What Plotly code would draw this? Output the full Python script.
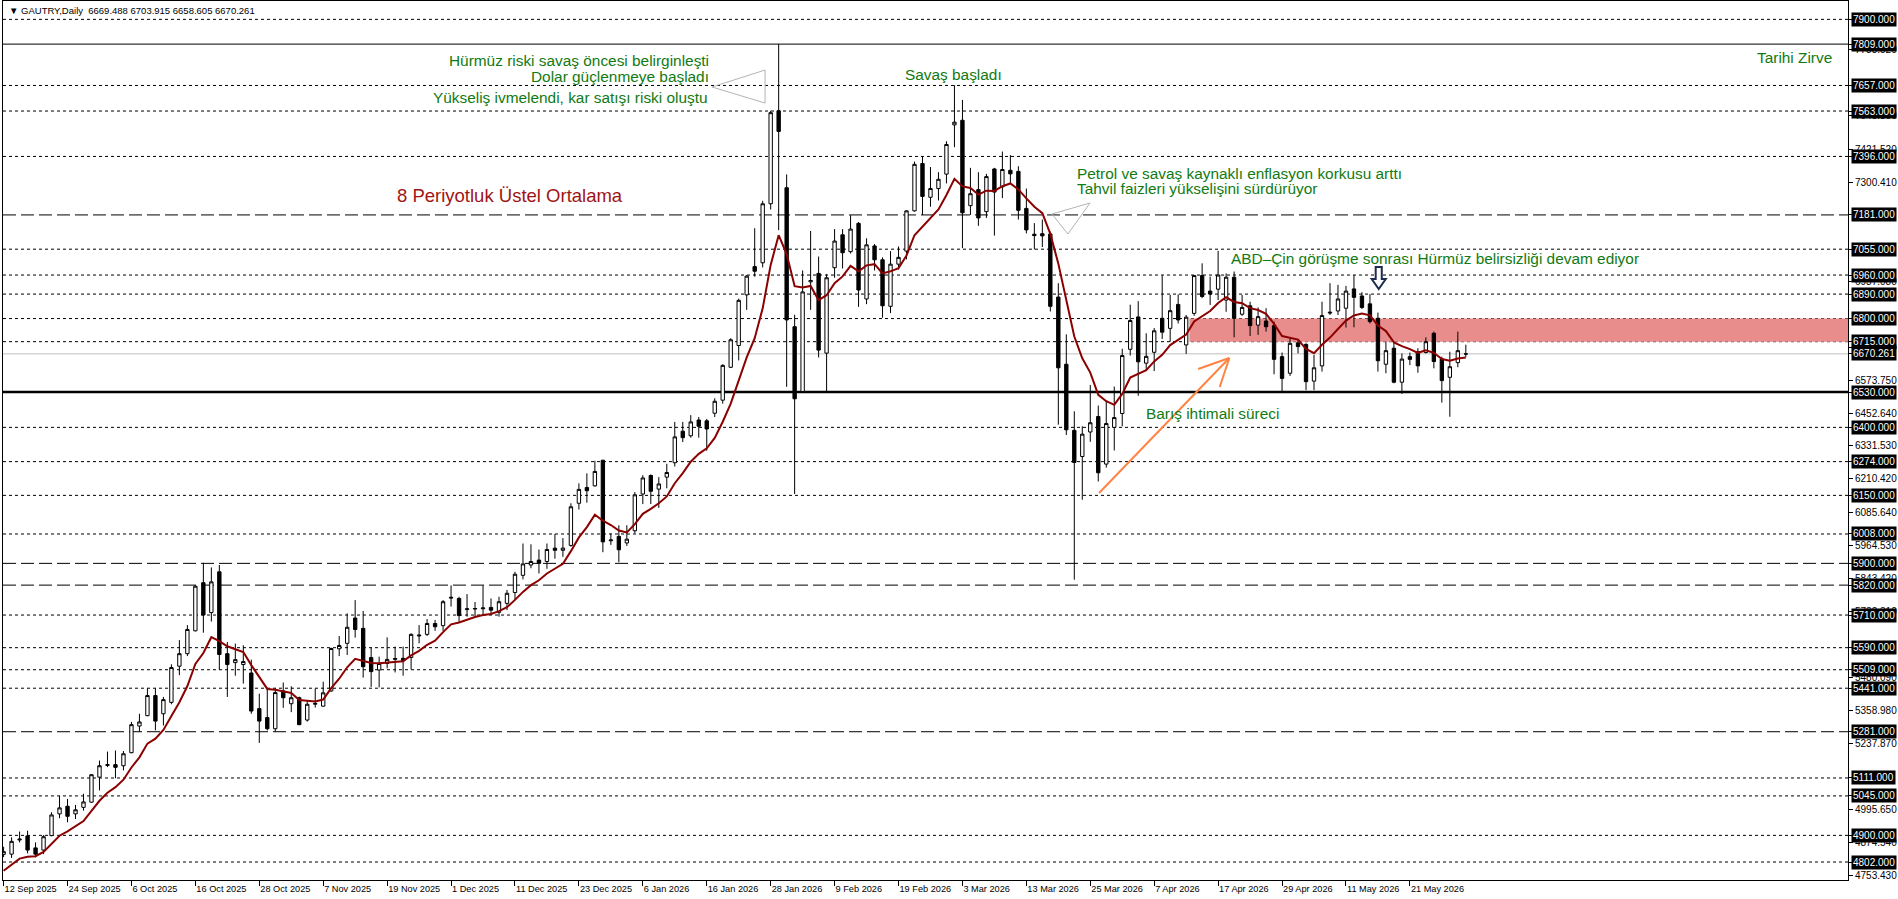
import plotly.graph_objects as go

# ---------------- data ----------------
open_ = [4830, 4831, 4883, 4898, 4854, 4846, 4899, 4979, 5007, 4979,
         5003, 5022, 5114, 5157, 5160, 5156, 5204, 5302, 5340, 5414,
         5347, 5389, 5522, 5568, 5652, 5829, 5719, 5869, 5568, 5535,
         5528, 5497, 5366, 5333, 5292, 5431, 5384, 5406, 5324, 5382,
         5375, 5431, 5586, 5606, 5699, 5661, 5554, 5508, 5532, 5547,
         5551, 5554, 5633, 5639, 5679, 5671, 5772, 5771, 5730, 5732,
         5733, 5738, 5720, 5753, 5793, 5856, 5894, 5912, 5907, 5956,
         5948, 5966, 6121, 6179, 6185, 6279, 5983, 5999, 5975, 6020,
         6155, 6223, 6173, 6217, 6270, 6386, 6369, 6427, 6424, 6452,
         6500, 6621, 6701, 6887, 6991, 7005, 7222, 7564, 7281, 6770,
         6532, 6935, 6966, 6673, 6987, 7108, 7046, 7150, 6872, 7067,
         7016, 6845, 7000, 7048, 7196, 7370, 7246, 7278, 7331, 7512,
         7529, 7215, 7274, 7193, 7350, 7284, 7345, 7341, 7205, 7110,
         7112, 7111, 6879, 6632, 6389, 6293, 6383, 6440, 6265, 6400,
         6451, 6687, 6806, 6636, 6676, 6801, 6764, 6852, 6703, 6819,
         6958, 6901, 6908, 6868, 6952, 6816, 6847, 6776, 6791, 6774,
         6660, 6599, 6711, 6705, 6570, 6626, 6820, 6828, 6838, 6909,
         6883, 6854, 6801, 6632, 6691, 6566, 6660, 6678, 6675, 6746,
         6651, 6584, 6638, 6669.488]
high = [4858, 4893, 4914, 4917, 4874, 4901, 4985, 5045, 5034, 5012,
        5053, 5125, 5175, 5208, 5212, 5210, 5317, 5347, 5441, 5441,
        5409, 5529, 5618, 5673, 5820, 5902, 5885, 5894, 5611, 5605,
        5599, 5546, 5421, 5441, 5441, 5462, 5448, 5410, 5397, 5440,
        5465, 5590, 5633, 5716, 5765, 5725, 5590, 5557, 5628, 5594,
        5594, 5643, 5673, 5695, 5692, 5765, 5819, 5777, 5787, 5758,
        5819, 5771, 5777, 5802, 5869, 5973, 5970, 5951, 5973, 6008,
        5993, 6121, 6194, 6231, 6277, 6281, 6010, 6040, 6040, 6162,
        6224, 6227, 6217, 6266, 6420, 6420, 6445, 6438, 6431, 6507,
        6632, 6728, 6873, 6960, 7132, 7233, 7564, 7809, 7330, 6814,
        6977, 7122, 7028, 6963, 7129, 7129, 7180, 7155, 7095, 7074,
        7025, 7048, 7065, 7198, 7377, 7396, 7357, 7338, 7452, 7658,
        7604, 7354, 7338, 7332, 7354, 7414, 7401, 7360, 7278, 7151,
        7164, 7120, 6930, 6742, 6459, 6404, 6556, 6480, 6497, 6550,
        6689, 6851, 6864, 6746, 6765, 6959, 6887, 6889, 6813, 6960,
        7003, 6954, 7049, 6966, 6973, 6887, 6862, 6841, 6838, 6789,
        6675, 6727, 6724, 6709, 6666, 6862, 6930, 6924, 6920, 6960,
        6897, 6890, 6822, 6715, 6715, 6672, 6675, 6691, 6731, 6752,
        6660, 6678, 6752, 6703.915]
low = [4820, 4817, 4874, 4834, 4819, 4831, 4897, 4963, 4948, 4960,
       4991, 5020, 5065, 5151, 5110, 5139, 5202, 5281, 5338, 5286,
       5304, 5382, 5489, 5559, 5650, 5645, 5686, 5509, 5409, 5487,
       5458, 5347, 5240, 5286, 5281, 5369, 5353, 5305, 5318, 5370,
       5373, 5428, 5559, 5563, 5627, 5480, 5446, 5444, 5514, 5499,
       5487, 5510, 5606, 5633, 5652, 5652, 5741, 5685, 5704, 5704,
       5712, 5712, 5704, 5728, 5765, 5841, 5882, 5863, 5880, 5917,
       5924, 5961, 6098, 6123, 6182, 5941, 5968, 5904, 5964, 6010,
       6118, 6118, 6104, 6176, 6256, 6346, 6362, 6362, 6314, 6438,
       6487, 6618, 6646, 6832, 6954, 6988, 7201, 7125, 6549, 6155,
       6530, 6832, 6657, 6528, 6950, 6984, 7039, 6843, 6853, 6977,
       6803, 6820, 6980, 7018, 7193, 7181, 7211, 7234, 7297, 7430,
       7059, 7181, 7141, 7170, 7105, 7243, 7297, 7164, 7113, 7054,
       7063, 6826, 6410, 6372, 5840, 6134, 6347, 6201, 6252, 6315,
       6404, 6664, 6516, 6607, 6607, 6725, 6715, 6782, 6670, 6810,
       6875, 6850, 6868, 6825, 6731, 6810, 6736, 6740, 6752, 6595,
       6531, 6589, 6672, 6537, 6537, 6605, 6813, 6813, 6767, 6768,
       6835, 6782, 6605, 6599, 6562, 6523, 6629, 6601, 6672, 6617,
       6491, 6439, 6621, 6658.605]
close = [4840, 4878, 4886, 4846, 4831, 4895, 4975, 5001, 4970, 4994,
         5023, 5123, 5156, 5160, 5150, 5200, 5307, 5317, 5414, 5320,
         5399, 5517, 5568, 5657, 5816, 5710, 5832, 5565, 5528, 5546,
         5539, 5357, 5320, 5292, 5425, 5406, 5406, 5307, 5382, 5385,
         5424, 5587, 5598, 5665, 5657, 5520, 5502, 5532, 5547, 5550,
         5542, 5639, 5636, 5679, 5667, 5759, 5775, 5708, 5733, 5734,
         5736, 5728, 5759, 5790, 5860, 5898, 5907, 5900, 5951, 5948,
         5956, 6108, 6172, 6167, 6238, 5979, 5986, 5950, 5989, 6152,
         6214, 6165, 6192, 6234, 6365, 6362, 6420, 6404, 6394, 6496,
         6628, 6722, 6867, 6956, 6974, 7222, 7557, 7488, 6795, 6505,
         6898, 6940, 6684, 6950, 7085, 7042, 7129, 6905, 7071, 7016,
         6847, 7000, 7025, 7196, 7367, 7249, 7278, 7312, 7440, 7522,
         7189, 7259, 7170, 7322, 7265, 7348, 7332, 7198, 7126, 7105,
         7104, 6845, 6619, 6391, 6271, 6375, 6417, 6233, 6414, 6436,
         6664, 6793, 6641, 6661, 6755, 6750, 6829, 6795, 6805, 6958,
         6881, 6890, 6960, 6952, 6801, 6841, 6774, 6807, 6770, 6650,
         6580, 6709, 6697, 6568, 6619, 6811, 6823, 6872, 6901, 6878,
         6841, 6789, 6645, 6682, 6566, 6651, 6650, 6626, 6715, 6642,
         6572, 6623, 6682, 6670.261]
bar_index = list(range(len(close)))

ema_period = 8
ema_start = 4770.0  # EMA value at the first visible bar

date_labels = ["12 Sep 2025", "24 Sep 2025", "6 Oct 2025", "16 Oct 2025",
               "28 Oct 2025", "7 Nov 2025", "19 Nov 2025", "1 Dec 2025",
               "11 Dec 2025", "23 Dec 2025", "6 Jan 2026", "16 Jan 2026",
               "28 Jan 2026", "9 Feb 2026", "19 Feb 2026", "3 Mar 2026",
               "13 Mar 2026", "25 Mar 2026", "7 Apr 2026", "17 Apr 2026",
               "29 Apr 2026", "11 May 2026", "21 May 2026"]
date_label_bars = [0, 8, 16, 24, 32, 40, 48, 56, 64, 72, 80, 88, 96, 104,
                   112, 120, 128, 136, 144, 152, 160, 168, 176]

levels_short_dash = [7900, 7657, 7563, 7396, 7055, 6960, 6890, 6800, 6715,
                     6400, 6274, 6150, 6008, 5710, 5590, 5509, 5441, 5111,
                     5045, 4900, 4802]
levels_long_dash = [7181, 5900, 5820, 5281]
level_ath = 7809
level_support = 6530
last_price = 6670.261
zone_low, zone_high = 6715, 6800
zone_start_bar = 148.4

axis_grid_labels = [7788.520, 7548.300, 7421.520, 7300.410, 6937.080,
                    6694.860, 6573.750, 6452.640, 6331.530, 6210.420,
                    6085.640, 5964.530, 5843.420, 5722.310, 5480.090,
                    5358.980, 5237.870, 4995.650, 4874.540, 4753.430]

header_text = "▼ GAUTRY,Daily  6669.488 6703.915 6658.605 6670.261"

# ---------------- derived indicator ----------------
alpha = 2.0 / (ema_period + 1)
ema = []
for i, c in enumerate(close):
    if i == 0:
        ema.append(ema_start)
    else:
        ema.append(ema[-1] + alpha * (c - ema[-1]))

# ---------------- figure ----------------
W, H = 1898, 899
X_RANGE = [-0.075, 230.83]
Y_RANGE = [4735.9, 7967.5]

fig = go.Figure()

fig.add_trace(go.Candlestick(
    x=bar_index, open=open_, high=high, low=low, close=close,
    increasing=dict(line=dict(color="black", width=1), fillcolor="white"),
    decreasing=dict(line=dict(color="black", width=1), fillcolor="black"),
    whiskerwidth=0, showlegend=False, hoverinfo="skip"))

fig.add_trace(go.Scatter(
    x=bar_index, y=ema, mode="lines",
    line=dict(color="#8B0000", width=2), showlegend=False, hoverinfo="skip"))

shapes = []
# pink zone
shapes.append(dict(type="rect", xref="x", yref="y", x0=zone_start_bar, x1=X_RANGE[1],
                   y0=zone_low, y1=zone_high, fillcolor="#E98C8C",
                   line=dict(width=0), layer="below"))
for p in levels_short_dash:
    shapes.append(dict(type="line", xref="paper", yref="y", x0=0, x1=1, y0=p, y1=p,
                       line=dict(color="black", width=1, dash="3px,3px"), layer="below"))
for p in levels_long_dash:
    shapes.append(dict(type="line", xref="paper", yref="y", x0=0, x1=1, y0=p, y1=p,
                       line=dict(color="black", width=1, dash="13px,5px"), layer="below"))
shapes.append(dict(type="line", xref="paper", yref="y", x0=0, x1=1, y0=level_ath, y1=level_ath,
                   line=dict(color="black", width=1), layer="below"))
shapes.append(dict(type="line", xref="paper", yref="y", x0=0, x1=1, y0=last_price, y1=last_price,
                   line=dict(color="#C0C0C0", width=1), layer="below"))
shapes.append(dict(type="line", xref="paper", yref="y", x0=0, x1=1, y0=level_support, y1=level_support,
                   line=dict(color="black", width=2.5), layer="below"))

# gray triangles (callout markers)
shapes.append(dict(type="path", xref="x", yref="y",
                   path="M 88.66 7651.3 L 95.3 7713.8 L 95.3 7592.4 Z",
                   line=dict(color="#B4B4B4", width=1), fillcolor="rgba(0,0,0,0)"))
shapes.append(dict(type="path", xref="x", yref="y",
                   path="M 131.2 7184.4 L 135.97 7224.9 L 133.2 7110.9 Z",
                   line=dict(color="#B4B4B4", width=1), fillcolor="rgba(0,0,0,0)"))
# orange arrow
orange = "#FF8444"
shapes.append(dict(type="line", xref="x", yref="y", x0=137.1, y0=6158.7, x1=153.4, y1=6655,
                   line=dict(color=orange, width=2)))
shapes.append(dict(type="line", xref="x", yref="y", x0=149.5, y0=6614.6, x1=153.4, y1=6655,
                   line=dict(color=orange, width=2)))
shapes.append(dict(type="line", xref="x", yref="y", x0=152.2, y0=6548.4, x1=153.4, y1=6655,
                   line=dict(color=orange, width=2)))
# down arrow (hollow)
ax, sh, hh = 172.1, 0.38, 0.88
shapes.append(dict(type="path", xref="x", yref="y",
                   path=(f"M {ax-sh} 6989.6 L {ax+sh} 6989.6 L {ax+sh} 6945.5 L {ax+hh} 6945.5 "
                         f"L {ax} 6908.7 L {ax-hh} 6945.5 L {ax-sh} 6945.5 Z"),
                   line=dict(color="#1E2D4F", width=2), fillcolor="white"))

annotations = []
green = "#127A12"
font_txt = "Liberation Sans, Arial, sans-serif"


def txt(text, x, y, anchor, color=green, size=15.4):
    annotations.append(dict(text=text, x=x, y=y, xref="x", yref="y", xanchor=anchor,
                            yanchor="middle", showarrow=False,
                            font=dict(family=font_txt, size=size, color=color)))


txt("Hürmüz riski savaş öncesi belirginleşti", 88.5, 7748.7, "right")
txt("Dolar güçlenmeye başladı", 88.5, 7691.0, "right")
txt("Yükseliş ivmelendi, kar satışı riski oluştu", 88.4, 7613.7, "right")
txt("Savaş başladı", 118.9, 7698.5, "center")
txt("8 Periyotluk Üstel Ortalama", 49.0, 7254.0, "left", color="#A01414", size=18.5)
txt("Tarihi Zirve", 229.1, 7761.0, "right")
txt("Petrol ve savaş kaynaklı enflasyon korkusu arttı", 134.1, 7335.0, "left")
txt("Tahvil faizleri yükselişini sürdürüyor", 134.1, 7280.0, "left")
txt("ABD–Çin görüşme sonrası Hürmüz belirsizliği devam ediyor", 153.4, 7019.0, "left")
txt("Barış ihtimali süreci", 142.7, 6452.8, "left")

# boxed price labels on the right axis
boxed = sorted(levels_short_dash + levels_long_dash + [level_ath, level_support])
for p in boxed:
    annotations.append(dict(text=f"{p:.3f}", x=1, y=p, xref="paper", yref="y",
                            xanchor="left", yanchor="middle", xshift=3, showarrow=False,
                            bgcolor="black", borderpad=1,
                            font=dict(family=font_txt, size=10, color="white")))
annotations.append(dict(text=f"{last_price:.3f}", x=1, y=last_price, xref="paper", yref="y",
                        xanchor="left", yanchor="middle", xshift=3, showarrow=False,
                        bgcolor="black", borderpad=1,
                        font=dict(family=font_txt, size=10, color="white")))

annotations.append(dict(text=header_text, x=0, y=1, xref="paper", yref="paper",
                        xanchor="left", yanchor="top", xshift=4, yshift=-2, showarrow=False,
                        font=dict(family=font_txt, size=9.5, color="black")))

tickvals_y = axis_grid_labels + boxed + [last_price]
ticktext_y = [f"{v:.3f}" for v in axis_grid_labels] + [""] * (len(boxed) + 1)

fig.update_layout(
    width=W, height=H,
    margin=dict(l=3, r=50, t=1, b=19),
    paper_bgcolor="white", plot_bgcolor="white",
    shapes=shapes, annotations=annotations,
    boxgap=0.4,
    showlegend=False,
    xaxis=dict(range=X_RANGE, rangeslider=dict(visible=False), showgrid=False,
               zeroline=False, showline=True, linecolor="black", linewidth=1, mirror=True,
               tickmode="array", tickvals=date_label_bars, ticktext=date_labels,
               ticks="outside", ticklen=5, tickcolor="black", tickangle=0,
               ticklabelposition="outside right",
               tickfont=dict(family=font_txt, size=9.2, color="black")),
    yaxis=dict(range=Y_RANGE, side="right", showgrid=False, zeroline=False,
               showline=True, linecolor="black", linewidth=1, mirror=True,
               tickmode="array", tickvals=tickvals_y, ticktext=ticktext_y,
               ticks="outside", ticklen=4, tickcolor="black",
               tickfont=dict(family=font_txt, size=10, color="black")),
)

fig.write_html("out.html")
